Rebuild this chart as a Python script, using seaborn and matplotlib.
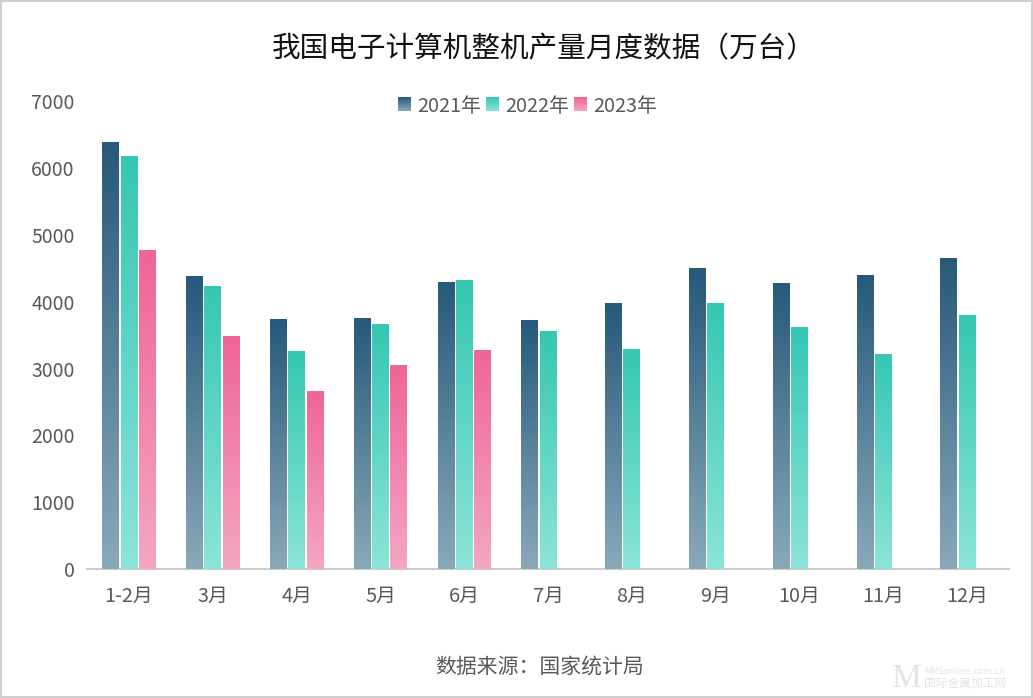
import numpy as np
import pandas as pd
from matplotlib import pyplot as plt
from matplotlib.colors import LinearSegmentedColormap
from matplotlib.image import BboxImage
from matplotlib.patches import Patch, Rectangle
import seaborn as sns

months = ['1-2月', '3月', '4月', '5月', '6月', '7月', '8月', '9月', '10月', '11月', '12月']
y2021 = [6380, 4375, 3732, 3747, 4285, 3717, 3971, 4494, 4270, 4390, 4645]
y2022 = [6170, 4225, 3253, 3657, 4315, 3552, 3283, 3971, 3612, 3208, 3792]
y2023 = [4764, 3477, 2655, 3044, 3268, None, None, None, None, None, None]
years = ['2021年', '2022年', '2023年']
top_colors = ['#27597A', '#35C7B2', '#EE6598']
bottom_colors = ['#89A9BA', '#8CE4D8', '#F4A6C2']

df = pd.DataFrame({'月份': months * 3,
                   '年份': [y for y in years for _ in months],
                   '产量': y2021 + y2022 + y2023})

sns.set_theme(style='white')
plt.rcParams['font.family'] = ['Noto Sans CJK SC', 'DejaVu Sans']
text_color = '#595959'

fig = plt.figure(figsize=(10.33, 6.98), dpi=100)
ax = fig.add_axes([87.2 / 1033, 1 - 569.2 / 698, 921.8 / 1033, 468 / 698])
sns.barplot(data=df, x='月份', y='产量', hue='年份', hue_order=years, order=months,
            width=0.655, gap=0.08, legend=False, ax=ax)
ax.set_xlim(-0.5, 10.5)
ax.set_ylim(0, 7000)
ax.set_xlabel('')
ax.set_ylabel('')
ax.set_yticks(range(0, 8000, 1000))
ax.tick_params(axis='x', colors=text_color, labelsize=14.3, length=0, pad=12)
ax.tick_params(axis='y', colors=text_color, labelsize=14, length=0, pad=9)
sns.despine(ax=ax, left=True)
ax.spines['bottom'].set_color('#CCCCCC')
ax.spines['bottom'].set_linewidth(1.5)


def make_cmap(top, bottom):
    return LinearSegmentedColormap.from_list('grad', [bottom, top])


# bars get a vertical gradient over their own height
grad = np.linspace(1, 0, 256).reshape(-1, 1)
for container, top, bottom in zip(ax.containers, top_colors, bottom_colors):
    cmap = make_cmap(top, bottom)
    for bar in container:
        h = bar.get_height()
        if not np.isfinite(h) or h == 0:
            continue
        x0 = bar.get_x()
        bar.set_alpha(0)
        ax.imshow(grad, cmap=cmap, vmin=0, vmax=1, aspect='auto', zorder=3,
                  extent=[x0, x0 + bar.get_width(), 0, h])
ax.set_xlim(-0.5, 10.5)
ax.set_ylim(0, 7000)

handles = [Patch(color=c, label=y) for c, y in zip(top_colors, years)]
leg = fig.legend(handles=handles, loc='center', bbox_to_anchor=(527.5 / 1033, 1 - 106 / 698), ncol=3,
                 frameon=False, fontsize=14.3, handlelength=0.65, handleheight=0.65,
                 handletextpad=0.3, columnspacing=0.25, labelcolor=text_color)

fig.text(543.5 / 1033, 1 - 49 / 698, '我国电子计算机整机产量月度数据（万台）', ha='center', va='center',
         fontsize=20.6, color='#111111')
fig.text(539.5 / 1033, 1 - 667 / 698, '数据来源：国家统计局', ha='center', va='center',
         fontsize=15, color=text_color)

# faint site watermark, bottom right
fig.text(907 / 1033, 1 - 679 / 698, 'M', ha='center', va='center', fontsize=24, color='#E4E4E4',
         family=['Liberation Serif', 'DejaVu Sans'])
fig.text(924 / 1033, 1 - 672 / 698, 'MMSonline.com.cn', ha='left', va='center', fontsize=6.5, color='#E4E4E4')
fig.text(924 / 1033, 1 - 683 / 698, '国际金属加工网', ha='left', va='center', fontsize=8.5, color='#E4E4E4')

fig.add_artist(Rectangle((0, 0), 1, 1, transform=fig.transFigure, fill=False,
                         edgecolor='#CFCFCF', linewidth=2.9))

# legend swatches get the same gradient
fig.canvas.draw()
for swatch, top, bottom in zip(leg.get_patches(), top_colors, bottom_colors):
    img = BboxImage(swatch.get_window_extent(), cmap=make_cmap(top, bottom), norm=plt.Normalize(0, 1),
                    origin='upper', zorder=5)
    img.set_data(grad)
    swatch.set_alpha(0)
    fig.add_artist(img)

fig.savefig('out.png', dpi=100)
